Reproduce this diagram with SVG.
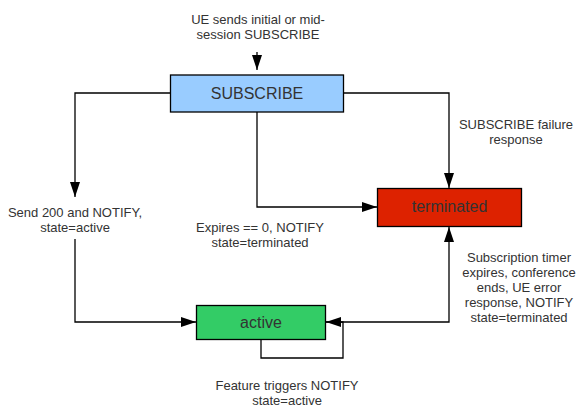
<svg xmlns="http://www.w3.org/2000/svg" width="586" height="419" viewBox="0 0 586 419">
<style>
.lbl{font-family:"Liberation Sans",Arial,sans-serif;font-size:13px;fill:#333;text-anchor:middle}
.nt{font-family:"Liberation Sans",Arial,sans-serif;font-size:16px;fill:#333;text-anchor:middle}
.box{stroke:#000;stroke-width:1.3}
.ln{fill:none;stroke:#000;stroke-width:1.3;marker-end:url(#ah)}
</style>
<defs>
<marker id="ah" markerUnits="userSpaceOnUse" markerWidth="16" markerHeight="11" refX="15" refY="5" orient="auto">
<path d="M0,0 L15,5 L0,10 z" fill="#000"/>
</marker>
</defs>
<rect width="586" height="419" fill="#fff"/>
<g id="connectors">
<path class="ln" d="M257,52 L257,70"/>
<path class="ln" d="M343,93 L449,93 L449,188"/>
<path class="ln" d="M170,93 L75,93 L75,197"/>
<path class="ln" d="M75,239 L75,322 L196,322"/>
<path class="ln" d="M257,112 L257,207 L377,207"/>
<path class="ln" d="M326,322 L449,322 L449,227"/>
<path class="ln" d="M261,339 L261,358 L343,358 L343,322 L326,322"/>
</g>
<g id="labels">
<text class="lbl" x="258" y="23.5">UE sends initial or mid-</text>
<text class="lbl" x="258" y="38.5">session SUBSCRIBE</text>
<text class="lbl" x="516" y="129">SUBSCRIBE failure</text>
<text class="lbl" x="516" y="144">response</text>
<text class="lbl" x="75" y="216.5">Send 200 and NOTIFY,</text>
<text class="lbl" x="75" y="231.5">state=active</text>
<text class="lbl" x="260" y="232">Expires == 0, NOTIFY</text>
<text class="lbl" x="260" y="246.5">state=terminated</text>
<text class="lbl" x="519" y="261.5">Subscription timer</text>
<text class="lbl" x="519" y="276.5">expires, conference</text>
<text class="lbl" x="519" y="291.5">ends, UE error</text>
<text class="lbl" x="519" y="306.5">response, NOTIFY</text>
<text class="lbl" x="519" y="321.5">state=terminated</text>
<text class="lbl" x="287" y="390">Feature triggers NOTIFY</text>
<text class="lbl" x="287" y="405">state=active</text>
</g>
<g id="subscribe">
<rect class="box" x="170.5" y="75" width="173" height="37" fill="#99ccff"/>
<text class="nt" x="257" y="99">SUBSCRIBE</text>
</g>
<g id="terminated">
<rect class="box" x="377.5" y="188.5" width="144" height="38" fill="#dd2200"/>
<text class="nt" x="449.5" y="212">terminated</text>
</g>
<g id="active">
<rect class="box" x="196.5" y="305.5" width="129" height="34" fill="#33cc66"/>
<text class="nt" x="261" y="328">active</text>
</g>
</svg>
